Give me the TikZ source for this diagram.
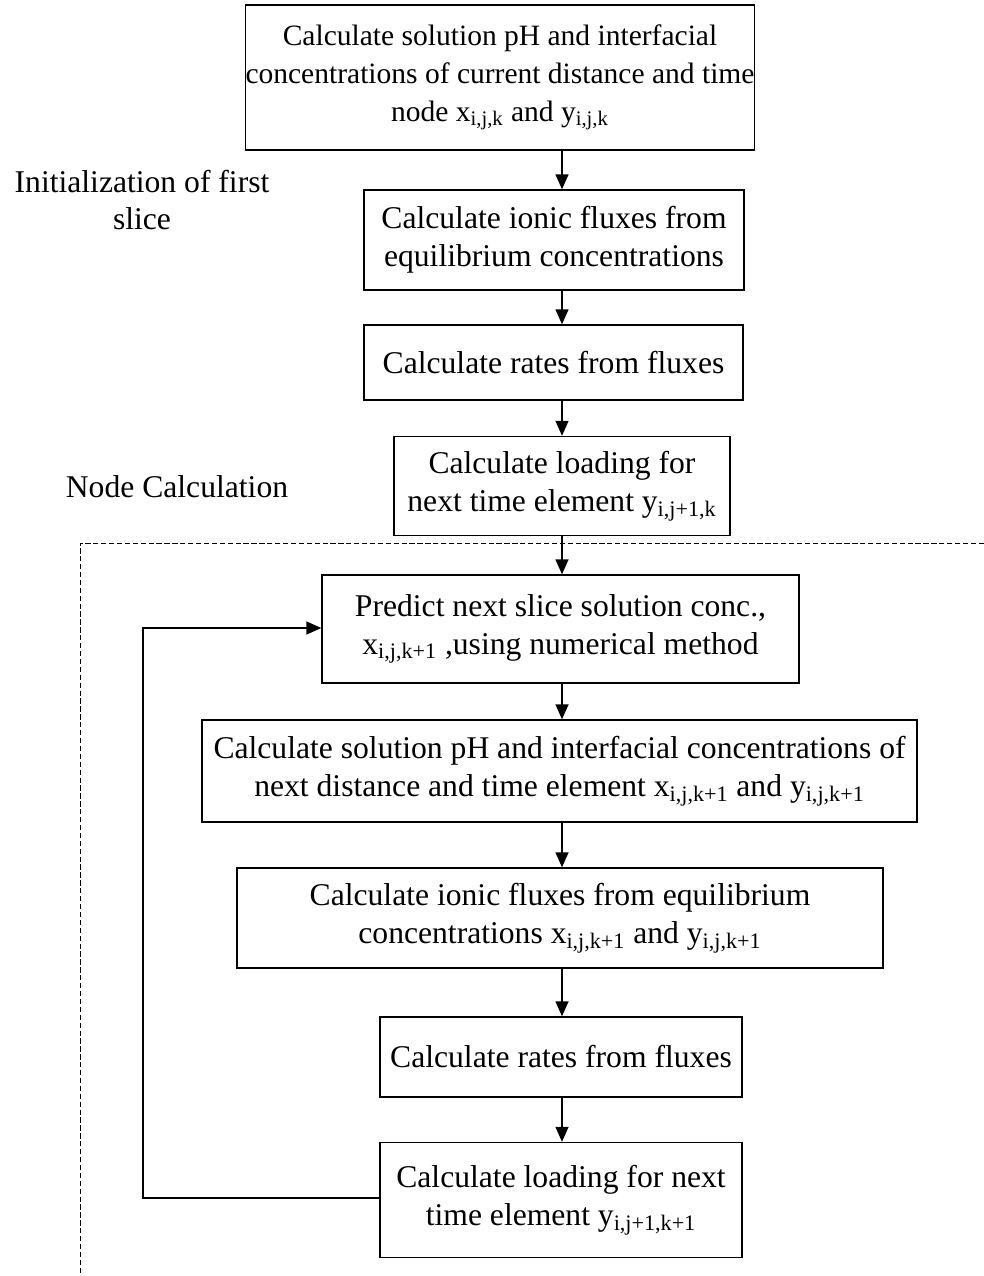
\documentclass[tikz,border=0pt]{standalone}
\usepackage{fontspec}
\setmainfont{Liberation Serif}
\usetikzlibrary{arrows.meta}
\tikzset{
  box/.style={draw, line width=0.8pt, align=center, inner sep=0pt,
    font=\fontsize{18}{21.5}\selectfont},
  note/.style={align=center, inner sep=0pt, font=\fontsize{18}{21.5}\selectfont},
  flow/.style={-{Triangle[length=0.3cm,width=0.26cm]}, line width=0.8pt},
}
\newcommand{\sub}[1]{\textsubscript{#1}}
\begin{document}
\begin{tikzpicture}[x=0.02cm,y=-0.02cm]
 \useasboundingbox (0,0) rectangle (984,1276);
 % first slice
 \node[box, minimum width=10.08cm, minimum height=2.9cm,
   font=\fontsize{16.8}{21.5}\selectfont] (b1) at (500,77.5)
   {Calculate solution pH and interfacial\\concentrations of current distance and time\\node x\sub{i,j,k} and y\sub{i,j,k}};
 \node[box, minimum width=7.6cm, minimum height=2cm] (b2) at (554,240)
   {Calculate ionic fluxes from\\equilibrium concentrations};
 \node[box, minimum width=7.58cm, minimum height=1.5cm] (b3) at (553.5,362.5)
   {Calculate rates from fluxes};
 \node[box, minimum width=6.72cm, minimum height=1.98cm] (b4) at (562,486)
   {Calculate loading for\\next time element y\sub{i,j+1,k}};
 % node calculation
 \node[box, minimum width=9.54cm, minimum height=2.16cm] (b5) at (560.5,629)
   {Predict next slice solution conc.,\\x\sub{i,j,k+1} ,using numerical method};
 \node[box, minimum width=14.3cm, minimum height=2.04cm] (b6) at (559.5,771)
   {Calculate solution pH and interfacial concentrations of\\next distance and time element x\sub{i,j,k+1} and y\sub{i,j,k+1}};
 \node[box, minimum width=12.92cm, minimum height=2cm] (b7) at (560,918)
   {Calculate ionic fluxes from equilibrium\\concentrations x\sub{i,j,k+1} and y\sub{i,j,k+1}};
 \node[box, minimum width=7.24cm, minimum height=1.6cm] (b8) at (561,1057)
   {Calculate rates from fluxes};
 \node[box, minimum width=7.24cm, minimum height=2.3cm] (b9) at (561,1200)
   {Calculate loading for next\\time element y\sub{i,j+1,k+1}};
 % labels
 \node[note] (init) at (142,200) {Initialization of first\\slice};
 \node[note] (nodecalc) at (177,487) {Node Calculation};
 % arrows
 \draw[flow] (b1.south -| b4) -- (b2.north -| b4);
 \draw[flow] (b2.south -| b4) -- (b3.north -| b4);
 \draw[flow] (b3.south -| b4) -- (b4.north);
 \draw[flow] (b4.south) -- (b5.north -| b4);
 \draw[flow] (b5.south -| b4) -- (b6.north -| b4);
 \draw[flow] (b6.south -| b4) -- (b7.north -| b4);
 \draw[flow] (b7.south -| b4) -- (b8.north -| b4);
 \draw[flow] (b8.south -| b4) -- (b9.north -| b4);
 \coordinate (loop) at (143,1198);
 \draw[flow] (b9.west |- loop) -- (loop) |- ([yshift=0.02cm]b5.west);
 % dashed frame
 \draw[line width=0.5pt, dash pattern=on 3pt off 1.5pt] (984,543) -| (80,1276);
\end{tikzpicture}
\end{document}
